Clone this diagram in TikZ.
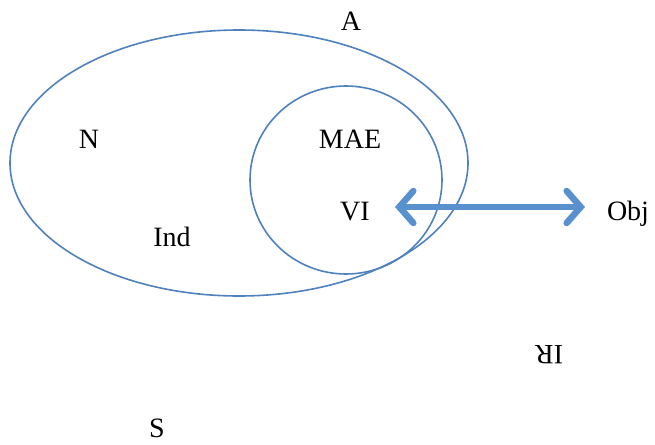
\documentclass[tikz,border=0pt]{standalone}
\usepackage{fontspec}
\setmainfont{Liberation Serif}
\usetikzlibrary{arrows.meta}
\definecolor{accblue}{RGB}{79,129,189}
\definecolor{arrblue}{RGB}{88,145,206}
\begin{document}
\begin{tikzpicture}[x=1pt,y=-1pt,
  lbl/.style={font=\fontsize{28}{32}\selectfont, inner sep=0pt},
  setline/.style={draw=accblue, line width=1.6pt},
  dblarrow/.style={draw=arrblue, line width=6.5pt, line cap=round,
    {Straight Barb[length=14pt,width=32pt,line cap=round]}-{Straight Barb[length=14pt,width=32pt,line cap=round]}}]
\useasboundingbox (0,0) rectangle (655,444);
\draw[setline] (239,163) ellipse [x radius=229, y radius=133];
\draw[setline] (346,180) ellipse [x radius=96, y radius=94];
\node[lbl] (A) at (351,21) {A};
\node[lbl] (N) at (89,139) {N};
\node[lbl] (MAE) at (350,139) {MAE};
\node[lbl] (VI) at (355,212) {VI};
\node[lbl] (Ind) at (172,237) {Ind};
\node[lbl] (Obj) at (628,214) {Obj};
\node[lbl, rotate=180] (IR) at (549,355) {IR};
\node[lbl] (S) at (157,428) {S};
\coordinate (arrL) at (395,207);
\coordinate (arrR) at (585,207);
\draw[dblarrow] (arrL) -- (arrR);
\end{tikzpicture}
\end{document}
